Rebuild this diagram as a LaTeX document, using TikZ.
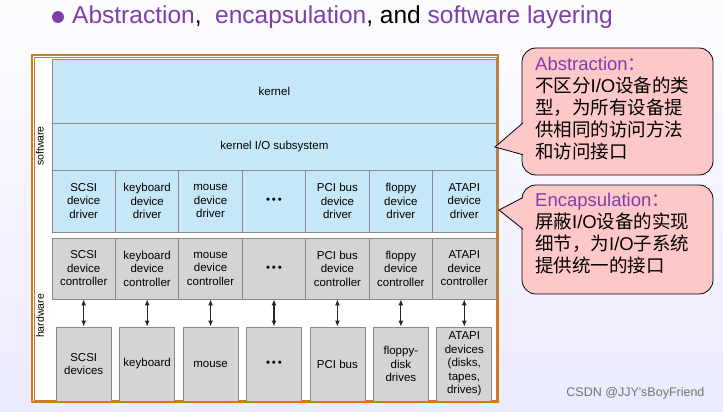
\documentclass[tikz,border=0pt]{standalone}
\usepackage{fontspec}
\setmainfont{Liberation Sans}
\newfontfamily\cjk{Noto Sans CJK SC}
\usetikzlibrary{arrows.meta,shadings}
\definecolor{sw}{HTML}{C6E7F7}
\definecolor{hw}{HTML}{D4D4D6}
\definecolor{ln}{HTML}{8A8A8A}
\definecolor{pur}{HTML}{7F3FA8}
\definecolor{pinkc}{HTML}{FFC8C8}
\definecolor{frm}{HTML}{D07A20}
\begin{document}
\begin{tikzpicture}[x=1pt,y=-1pt,
 box/.style={draw=ln,line width=0.8pt,minimum width=63.4pt,inner sep=0pt,align=center,font=\fontsize{11.5}{13.5}\selectfont},
 sbox/.style={box,fill=sw,minimum height=62pt},
 cbox/.style={box,fill=hw,minimum height=61pt},
 dbox/.style={box,fill=hw,minimum width=55pt,minimum height=74pt},
 arr/.style={{Latex[length=6pt,width=5pt]}-{Latex[length=6pt,width=5pt]},line width=1.2pt,draw=black!85},
 call/.style={draw=black,line width=0.8pt,fill=pinkc,rounded corners=14pt},
 ctext/.style={anchor=north west,align=left,font=\fontsize{18.5}{22}\selectfont,inner sep=0pt}]
\useasboundingbox (0,0) rectangle (723,412);
\shade[top color=white!95!blue!20, bottom color=blue!8] (0,0) rectangle (723,412);
\fill[white] (32,55) rectangle (498,402);
\draw[frm,line width=1.2pt] (32,55) rectangle (498,402);
\draw[frm,line width=0.4pt] (34,57) rectangle (496,400);
% title
\fill[pur] (58,17) circle (6pt);
\node[anchor=west,inner sep=0pt,font=\fontsize{24.5}{28}\selectfont] (title) at (72,17)
 {\textcolor{pur}{Abstraction}, \ \textcolor{pur}{encapsulation}, and \textcolor{pur}{software layering}};
% software
\node[draw=ln,line width=0.8pt,fill=sw,minimum width=444pt,minimum height=64pt,inner sep=0pt,anchor=north west,font=\fontsize{11.5}{13}\selectfont] (kernel) at (52,59) {kernel};
\node[draw=ln,line width=0.8pt,fill=sw,minimum width=444pt,minimum height=47pt,inner sep=0pt,anchor=north west,font=\fontsize{11.5}{13}\selectfont] (kio) at (52,123) {kernel I/O subsystem};
\foreach \i/\t in {0/{SCSI\\device\\driver},1/{keyboard\\device\\driver},2/{mouse\\device\\driver},3/{\textbullet\,\textbullet\,\textbullet},4/{PCI bus\\device\\driver},5/{floppy\\device\\driver},6/{ATAPI\\device\\driver}}
 \node[sbox] (d\i) at ({83.7+63.43*\i},201) {\t};
\foreach \i/\t in {0/{SCSI\\device\\controller},1/{keyboard\\device\\controller},2/{mouse\\device\\controller},3/{\textbullet\,\textbullet\,\textbullet},4/{PCI bus\\device\\controller},5/{floppy\\device\\controller},6/{ATAPI\\device\\controller}}
 \node[cbox] (c\i) at ({83.7+63.43*\i},268.5) {\t};
\foreach \i/\t in {0/{SCSI\\devices},1/{keyboard},2/{mouse},3/{\textbullet\,\textbullet\,\textbullet},4/{PCI bus},5/{floppy-\\disk\\drives},6/{ATAPI\\devices\\(disks,\\tapes,\\drives)}}
 \node[dbox] (v\i) at ({83.7+63.43*\i},364) {\t};
\foreach \i in {0,...,6} \draw[arr] (c\i.south) -- (v\i.north);
\node[rotate=90,font=\fontsize{10.5}{12}\selectfont] (swl) at (40,146) {software};
\node[rotate=90,font=\fontsize{10.5}{12}\selectfont] (hwl) at (40,316) {hardware};
% callouts
\coordinate (p1) at (495,147);
\coordinate (p2) at (499,210);
\draw[call] (522,48) rectangle (713,175);
\draw[line width=0.8pt,fill=pinkc] (524,122) -- (p1) -- (524,155);
\fill[pinkc] (523,121) rectangle (526,156);
\node[ctext] (a1) at (535,57) {\textcolor{pur}{Abstraction{\cjk ：}}\\{\cjk 不区分}I/O{\cjk 设备的类}\\{\cjk 型，为所有设备提}\\{\cjk 供相同的访问方法}\\{\cjk 和访问接口}};
\draw[call] (522,185) rectangle (713,294);
\draw[line width=0.8pt,fill=pinkc] (524,197) -- (p2) -- (524,230);
\fill[pinkc] (523,196) rectangle (526,231);
\node[ctext] (a2) at (535,193) {\textcolor{pur}{Encapsulation{\cjk ：}}\\{\cjk 屏蔽}I/O{\cjk 设备的实现}\\{\cjk 细节，为}I/O{\cjk 子系统}\\{\cjk 提供统一的接口}};
\node[anchor=east,text=black!55,font=\fontsize{12.5}{14}\selectfont] (wm) at (708,393) {CSDN @JJY{\textquotesingle}sBoyFriend};
\end{tikzpicture}
\end{document}
